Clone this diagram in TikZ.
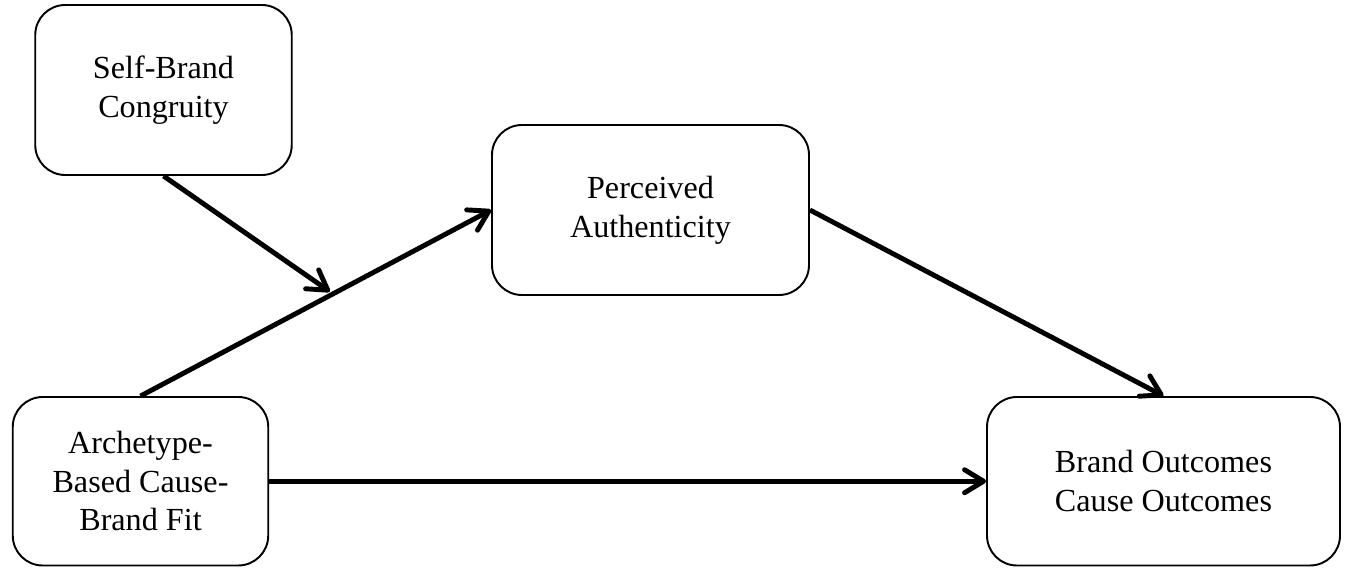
\documentclass[tikz,border=0pt]{standalone}
\usepackage{fontspec}
\setmainfont{Liberation Serif}
\usetikzlibrary{positioning, arrows.meta, calc}

\begin{document}
\begin{tikzpicture}[construct/.style={draw, rounded corners=0.6cm, line width=1.1pt, align=center, font=\fontsize{18.3}{22}\selectfont, inner sep=0pt},
    path/.style={line width=2.8pt, -{Straight Barb[length=0.38cm, width=0.46cm, line cap=round, round]}}]
    \useasboundingbox (0,0) rectangle (26.98,11.34);
    % Constructs
    \node[construct, minimum width=5.13cm, minimum height=3.4cm] (sbc) at (3.27,9.54) {Self-Brand\\Congruity};
    \node[construct, minimum width=6.34cm, minimum height=3.4cm] (pa) at (13.01,7.14) {Perceived\\Authenticity};
    \node[construct, minimum width=5.11cm, minimum height=3.37cm] (abf) at (2.81,1.715) {Archetype-\\Based Cause-\\Brand Fit};
    \node[construct, minimum width=7.06cm, minimum height=3.37cm] (bo) at (23.27,1.715) {Brand Outcomes\\Cause Outcomes};

    % Paths
    \draw[path] (abf.north) -- (pa.west);
    \coordinate (mod) at ($(abf.north)!0.54!(pa.west)+(0,0.08)$);
    \draw[path] (sbc.south) -- (mod);
    \draw[path] (pa.east) -- (bo.north);
    \draw[path] (abf.east) -- (bo.west);
\end{tikzpicture}
\end{document}
